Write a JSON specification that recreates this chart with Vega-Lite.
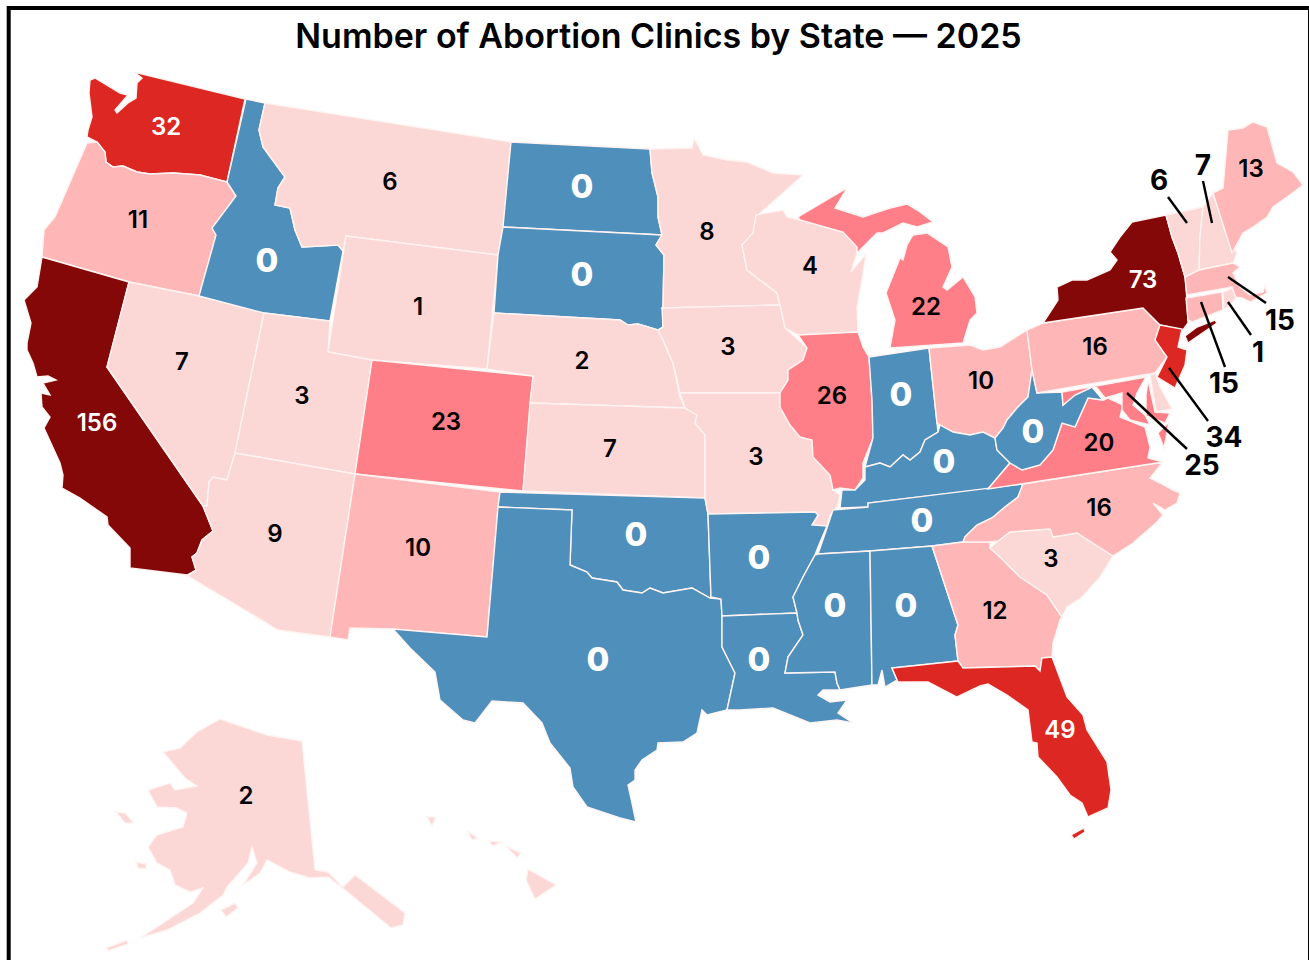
{
"$schema":"https://vega.github.io/schema/vega-lite/v6.json",
"width":1309,"height":960,"autosize":{"type":"none"},"padding":0,"background":"white",
"config":{"view":{"stroke":null}},
"title":{"text":"Number of Abortion Clinics by State — 2025","font":"Inter","fontSize":34,"fontWeight":600,"color":"#000000","anchor":"middle","offset":-55,"dx":4},
"projection":{"type":"identity","scale":1,"translate":[0,0]},
"datasets":{
"states":[
{"type":"Feature","properties":{"state":"Washington","clinics":32},"geometry":{"type":"Polygon","coordinates":[[[90,80],[95,78],[120,93],[128,95],[115,110],[117,113],[128,103],[136,98],[137,83],[142,78],[134,72],[245,99],[227,182],[200,175],[173,173],[150,174],[137,172],[123,166],[113,167],[106,162],[105,152],[97,142],[87,137],[88,130],[92,117],[89,93],[90,80]]]}},
{"type":"Feature","properties":{"state":"Oregon","clinics":11},"geometry":{"type":"Polygon","coordinates":[[[87,143],[97,142],[105,152],[106,162],[113,167],[123,166],[137,172],[150,174],[173,173],[200,175],[227,182],[236,196],[222,215],[212,228],[216,235],[199,296],[129,282],[42,257],[44,230],[55,217],[87,143]]]}},
{"type":"Feature","properties":{"state":"California","clinics":156},"geometry":{"type":"Polygon","coordinates":[[[42,257],[129,282],[107,367],[203,506],[213,531],[202,540],[197,553],[192,557],[196,570],[187,575],[130,568],[130,548],[108,525],[107,517],[80,498],[62,488],[63,475],[60,463],[44,428],[50,417],[42,407],[41,393],[50,395],[43,383],[56,380],[48,376],[37,377],[33,363],[27,350],[27,343],[31,323],[24,300],[37,287],[42,257]]]}},
{"type":"Feature","properties":{"state":"Nevada","clinics":7},"geometry":{"type":"Polygon","coordinates":[[[129,282],[199,296],[264,313],[235,453],[227,480],[213,477],[209,482],[207,506],[203,506],[107,367],[129,282]]]}},
{"type":"Feature","properties":{"state":"Idaho","clinics":0},"geometry":{"type":"Polygon","coordinates":[[[246,99],[265,103],[259,130],[263,147],[285,177],[278,188],[275,205],[290,208],[295,230],[302,247],[338,245],[343,251],[330,321],[264,313],[199,296],[216,235],[212,228],[236,196],[227,182],[246,99]]]}},
{"type":"Feature","properties":{"state":"Montana","clinics":6},"geometry":{"type":"Polygon","coordinates":[[[265,103],[511,142],[503,227],[498,255],[346,236],[343,251],[338,245],[302,247],[295,230],[290,208],[275,205],[278,188],[285,177],[263,147],[259,130],[265,103]]]}},
{"type":"Feature","properties":{"state":"Wyoming","clinics":1},"geometry":{"type":"Polygon","coordinates":[[[346,236],[498,255],[487,369],[372,360],[328,352],[346,236]]]}},
{"type":"Feature","properties":{"state":"Utah","clinics":3},"geometry":{"type":"Polygon","coordinates":[[[264,313],[330,321],[328,352],[372,360],[355,474],[235,453],[264,313]]]}},
{"type":"Feature","properties":{"state":"Colorado","clinics":23},"geometry":{"type":"Polygon","coordinates":[[[372,360],[533,376],[523,491],[355,474],[372,360]]]}},
{"type":"Feature","properties":{"state":"Arizona","clinics":9},"geometry":{"type":"Polygon","coordinates":[[[235,453],[355,474],[330,637],[278,630],[188,576],[196,570],[192,557],[197,553],[202,540],[213,531],[203,506],[207,506],[209,482],[213,477],[227,480],[235,453]]]}},
{"type":"Feature","properties":{"state":"New Mexico","clinics":10},"geometry":{"type":"Polygon","coordinates":[[[355,474],[500,492],[498,507],[487,637],[393,629],[350,628],[348,640],[330,637],[355,474]]]}},
{"type":"Feature","properties":{"state":"North Dakota","clinics":0},"geometry":{"type":"Polygon","coordinates":[[[511,142],[650,149],[652,173],[658,197],[658,217],[662,235],[503,227],[511,142]]]}},
{"type":"Feature","properties":{"state":"South Dakota","clinics":0},"geometry":{"type":"Polygon","coordinates":[[[503,227],[662,235],[656,245],[664,255],[663,307],[663,327],[658,330],[638,324],[628,325],[620,320],[494,313],[498,255],[503,227]]]}},
{"type":"Feature","properties":{"state":"Nebraska","clinics":2},"geometry":{"type":"Polygon","coordinates":[[[494,313],[620,320],[628,325],[638,324],[658,330],[663,340],[673,363],[680,397],[685,408],[530,403],[533,376],[487,369],[494,313]]]}},
{"type":"Feature","properties":{"state":"Kansas","clinics":7},"geometry":{"type":"Polygon","coordinates":[[[530,403],[685,408],[697,415],[695,423],[705,435],[705,498],[523,491],[530,403]]]}},
{"type":"Feature","properties":{"state":"Oklahoma","clinics":0},"geometry":{"type":"Polygon","coordinates":[[[500,492],[705,498],[708,514],[711,597],[710,598],[692,588],[663,593],[650,588],[642,593],[623,590],[617,582],[592,578],[587,572],[570,565],[572,510],[498,507],[500,492]]]}},
{"type":"Feature","properties":{"state":"Texas","clinics":0},"geometry":{"type":"Polygon","coordinates":[[[498,507],[572,510],[570,565],[587,572],[592,578],[617,582],[623,590],[642,593],[650,588],[663,593],[692,588],[710,598],[721,599],[722,616],[722,647],[735,673],[727,710],[707,715],[702,710],[697,733],[683,742],[658,743],[657,750],[642,760],[635,770],[635,780],[628,785],[632,803],[636,822],[620,818],[587,807],[573,787],[570,768],[550,743],[542,723],[523,703],[492,701],[475,723],[463,720],[440,700],[435,672],[410,648],[393,629],[487,637],[498,507]]]}},
{"type":"Feature","properties":{"state":"Minnesota","clinics":8},"geometry":{"type":"Polygon","coordinates":[[[650,149],[692,148],[694,138],[703,155],[727,160],[747,162],[773,173],[803,175],[783,193],[758,215],[756,217],[753,233],[742,245],[747,270],[777,293],[780,305],[662,308],[663,307],[664,255],[656,245],[662,235],[658,217],[658,197],[652,173],[650,149]]]}},
{"type":"Feature","properties":{"state":"Iowa","clinics":3},"geometry":{"type":"Polygon","coordinates":[[[662,308],[780,305],[785,328],[807,348],[803,360],[788,370],[788,380],[780,393],[680,393],[673,363],[663,340],[658,330],[663,327],[662,308]]]}},
{"type":"Feature","properties":{"state":"Missouri","clinics":3},"geometry":{"type":"Polygon","coordinates":[[[680,393],[780,393],[780,407],[790,425],[800,437],[812,440],[813,457],[830,475],[833,490],[840,495],[837,507],[830,515],[827,526],[812,525],[818,515],[815,512],[708,514],[705,498],[705,435],[695,423],[697,415],[685,408],[680,393]]]}},
{"type":"Feature","properties":{"state":"Arkansas","clinics":0},"geometry":{"type":"Polygon","coordinates":[[[708,514],[815,512],[818,515],[812,525],[827,526],[818,547],[815,555],[803,577],[793,597],[797,613],[722,616],[721,599],[711,597],[708,514]]]}},
{"type":"Feature","properties":{"state":"Louisiana","clinics":0},"geometry":{"type":"Polygon","coordinates":[[[722,616],[797,613],[798,620],[803,635],[788,657],[785,673],[835,672],[837,683],[840,690],[823,690],[818,695],[830,702],[847,700],[838,713],[853,723],[837,720],[810,723],[773,708],[740,710],[727,710],[735,673],[722,647],[722,616]]]}},
{"type":"Feature","properties":{"state":"Wisconsin","clinics":4},"geometry":{"type":"Polygon","coordinates":[[[756,215],[783,210],[787,217],[800,220],[843,232],[857,247],[857,253],[851,272],[866,254],[862,280],[857,307],[858,332],[798,335],[785,328],[780,305],[777,293],[747,270],[742,245],[753,233],[756,215]]]}},
{"type":"Feature","properties":{"state":"Illinois","clinics":26},"geometry":{"type":"Polygon","coordinates":[[[798,335],[858,332],[863,347],[869,357],[872,400],[873,438],[863,463],[863,478],[855,490],[840,488],[833,490],[830,475],[813,457],[812,440],[800,437],[790,425],[780,407],[780,393],[788,380],[788,370],[803,360],[807,348],[798,335]]]}},
{"type":"Feature","properties":{"state":"Michigan","clinics":22},"geometry":{"type":"MultiPolygon","coordinates":[[[[798,217],[847,188],[835,208],[863,217],[890,208],[907,204],[920,212],[933,222],[917,227],[903,223],[883,233],[877,233],[867,243],[857,253],[857,247],[843,232],[800,220],[798,217]]],[[[913,235],[927,233],[948,247],[952,267],[943,287],[947,290],[963,277],[975,297],[977,313],[970,320],[963,343],[890,348],[895,320],[886,293],[900,258],[903,260],[907,245],[913,235]]]]}},
{"type":"Feature","properties":{"state":"Indiana","clinics":0},"geometry":{"type":"Polygon","coordinates":[[[869,357],[929,348],[937,423],[938,432],[925,440],[920,452],[910,460],[903,455],[890,467],[880,463],[865,467],[873,438],[872,400],[869,357]]]}},
{"type":"Feature","properties":{"state":"Ohio","clinics":10},"geometry":{"type":"Polygon","coordinates":[[[929,348],[970,345],[983,350],[1000,347],[1027,330],[1032,370],[1028,397],[1017,408],[1007,420],[1003,428],[995,438],[983,432],[970,435],[953,432],[940,425],[937,423],[929,348]]]}},
{"type":"Feature","properties":{"state":"Kentucky","clinics":0},"geometry":{"type":"Polygon","coordinates":[[[842,490],[855,490],[865,480],[865,467],[880,463],[890,467],[903,455],[910,460],[920,452],[925,440],[938,432],[940,425],[953,432],[970,435],[983,432],[995,438],[997,450],[1010,463],[988,489],[868,503],[868,507],[840,508],[842,490]]]}},
{"type":"Feature","properties":{"state":"Tennessee","clinics":0},"geometry":{"type":"Polygon","coordinates":[[[833,510],[868,507],[868,503],[1023,484],[1018,497],[1005,507],[992,518],[977,525],[965,537],[963,542],[932,546],[870,551],[818,554],[827,528],[833,510]]]}},
{"type":"Feature","properties":{"state":"Mississippi","clinics":0},"geometry":{"type":"Polygon","coordinates":[[[818,554],[870,551],[872,685],[840,690],[837,683],[835,672],[785,673],[788,657],[803,635],[798,620],[797,613],[793,597],[803,577],[815,555],[818,554]]]}},
{"type":"Feature","properties":{"state":"Alabama","clinics":0},"geometry":{"type":"Polygon","coordinates":[[[870,551],[932,546],[958,625],[955,635],[958,661],[892,668],[897,680],[885,687],[882,670],[878,685],[872,685],[870,551]]]}},
{"type":"Feature","properties":{"state":"Georgia","clinics":12},"geometry":{"type":"Polygon","coordinates":[[[932,546],[963,542],[990,542],[990,548],[1000,557],[1020,577],[1047,595],[1062,617],[1060,620],[1053,643],[1052,657],[1042,658],[1040,671],[1035,666],[963,668],[958,661],[955,635],[958,625],[932,546]]]}},
{"type":"Feature","properties":{"state":"Florida","clinics":49},"geometry":{"type":"MultiPolygon","coordinates":[[[[892,668],[958,661],[963,668],[1035,666],[1040,671],[1042,658],[1052,657],[1067,697],[1083,715],[1087,730],[1107,762],[1111,790],[1108,808],[1088,817],[1082,803],[1070,795],[1057,777],[1038,757],[1037,743],[1032,742],[1028,710],[1007,695],[988,684],[980,686],[957,697],[928,682],[908,682],[898,682],[892,668]]],[[[1071,835],[1084,828],[1085,832],[1074,839],[1071,835]]]]}},
{"type":"Feature","properties":{"state":"South Carolina","clinics":3},"geometry":{"type":"Polygon","coordinates":[[[990,548],[998,541],[1010,532],[1050,529],[1053,537],[1077,533],[1113,556],[1100,577],[1082,597],[1067,607],[1062,617],[1047,595],[1020,577],[1000,557],[990,548]]]}},
{"type":"Feature","properties":{"state":"North Carolina","clinics":16},"geometry":{"type":"Polygon","coordinates":[[[1023,484],[1163,462],[1150,478],[1160,483],[1173,490],[1180,493],[1177,503],[1165,510],[1153,503],[1163,515],[1157,522],[1133,543],[1113,556],[1077,533],[1053,537],[1050,529],[1010,532],[998,541],[990,542],[963,542],[965,537],[977,525],[992,518],[1005,507],[1018,497],[1023,484]]]}},
{"type":"Feature","properties":{"state":"Virginia","clinics":20},"geometry":{"type":"MultiPolygon","coordinates":[[[[988,489],[1010,463],[1022,470],[1040,465],[1053,450],[1062,423],[1075,427],[1088,398],[1103,400],[1108,398],[1123,405],[1120,417],[1145,427],[1150,447],[1148,458],[1163,462],[988,489]]],[[[1158,433],[1169,422],[1164,448],[1158,433]]]]}},
{"type":"Feature","properties":{"state":"West Virginia","clinics":0},"geometry":{"type":"Polygon","coordinates":[[[1032,370],[1037,393],[1062,392],[1063,405],[1075,395],[1092,387],[1103,400],[1088,398],[1075,427],[1062,423],[1053,450],[1040,465],[1022,470],[1010,463],[997,450],[995,438],[1003,428],[1007,420],[1017,408],[1028,397],[1032,370]]]}},
{"type":"Feature","properties":{"state":"Maryland","clinics":25},"geometry":{"type":"MultiPolygon","coordinates":[[[[1062,392],[1146,377],[1137,393],[1133,405],[1145,415],[1150,425],[1130,420],[1122,410],[1122,393],[1105,398],[1097,388],[1092,387],[1075,395],[1063,405],[1062,392]]],[[[1148,380],[1155,412],[1170,413],[1165,423],[1146,416],[1146,395],[1148,380]]]]}},
{"type":"Feature","properties":{"state":"Delaware","clinics":3},"geometry":{"type":"Polygon","coordinates":[[[1150,375],[1155,373],[1160,387],[1172,409],[1156,412],[1150,375]]]}},
{"type":"Feature","properties":{"state":"Pennsylvania","clinics":16},"geometry":{"type":"Polygon","coordinates":[[[1027,330],[1043,323],[1143,308],[1160,325],[1155,340],[1167,357],[1155,373],[1037,393],[1032,370],[1027,330]]]}},
{"type":"Feature","properties":{"state":"New York","clinics":73},"geometry":{"type":"MultiPolygon","coordinates":[[[[1043,323],[1058,300],[1057,287],[1072,280],[1087,280],[1110,270],[1117,260],[1110,252],[1120,237],[1132,222],[1166,215],[1172,237],[1178,253],[1185,277],[1187,300],[1188,323],[1183,330],[1160,325],[1143,308],[1043,323]]],[[[1185,336],[1197,327],[1215,320],[1217,323],[1201,334],[1188,343],[1185,336]]]]}},
{"type":"Feature","properties":{"state":"New Jersey","clinics":34},"geometry":{"type":"Polygon","coordinates":[[[1160,325],[1182,329],[1178,347],[1187,350],[1185,365],[1175,388],[1157,377],[1167,357],[1155,340],[1160,325]]]}},
{"type":"Feature","properties":{"state":"Vermont","clinics":6},"geometry":{"type":"Polygon","coordinates":[[[1166,215],[1203,207],[1200,237],[1199,270],[1185,277],[1178,253],[1172,237],[1166,215]]]}},
{"type":"Feature","properties":{"state":"New Hampshire","clinics":7},"geometry":{"type":"Polygon","coordinates":[[[1203,207],[1213,193],[1227,237],[1237,253],[1233,263],[1199,270],[1200,237],[1203,207]]]}},
{"type":"Feature","properties":{"state":"Maine","clinics":13},"geometry":{"type":"Polygon","coordinates":[[[1213,193],[1223,188],[1228,130],[1243,128],[1253,122],[1267,127],[1277,163],[1293,172],[1303,185],[1287,197],[1273,207],[1267,217],[1253,227],[1243,233],[1232,253],[1227,237],[1213,193]]]}},
{"type":"Feature","properties":{"state":"Massachusetts","clinics":15},"geometry":{"type":"Polygon","coordinates":[[[1185,277],[1199,270],[1233,263],[1240,267],[1233,273],[1240,287],[1250,295],[1263,292],[1265,285],[1267,293],[1250,302],[1242,298],[1235,297],[1232,287],[1187,295],[1185,277]]]}},
{"type":"Feature","properties":{"state":"Connecticut","clinics":15},"geometry":{"type":"Polygon","coordinates":[[[1186,298],[1222,292],[1223,310],[1192,322],[1188,320],[1186,298]]]}},
{"type":"Feature","properties":{"state":"Rhode Island","clinics":1},"geometry":{"type":"Polygon","coordinates":[[[1223,292],[1232,288],[1236,298],[1227,308],[1224,309],[1223,292]]]}},
{"type":"Feature","properties":{"state":"Alaska","clinics":2},"geometry":{"type":"MultiPolygon","coordinates":[[[[220,719],[267,735],[302,741],[315,870],[328,872],[343,887],[355,875],[405,913],[403,925],[391,928],[345,890],[328,877],[310,878],[290,872],[267,860],[260,873],[243,885],[257,863],[252,847],[248,863],[227,887],[223,895],[200,913],[167,930],[140,938],[160,925],[193,903],[203,888],[190,892],[175,885],[170,870],[157,863],[148,847],[157,835],[183,827],[187,813],[177,808],[157,807],[148,790],[170,783],[175,790],[197,786],[185,778],[163,752],[180,748],[197,732],[220,719]]],[[[116,812],[125,813],[134,823],[125,823],[116,812]]],[[[136,862],[146,864],[146,869],[138,868],[136,862]]],[[[221,910],[235,903],[238,908],[226,917],[221,910]]],[[[106,948],[127,940],[128,944],[108,951],[106,948]]]]}},
{"type":"Feature","properties":{"state":"Hawaii","clinics":4},"geometry":{"type":"MultiPolygon","coordinates":[[[[528,869],[556,885],[535,899],[526,880],[528,869]]],[[[506,846],[521,853],[517,858],[506,846]]],[[[467,831],[478,838],[472,840],[467,831]]],[[[489,841],[503,842],[492,846],[489,841]]],[[[427,817],[436,817],[432,826],[427,817]]]]}}
],
"labels":[
{"state":"Washington","clinics":32,"x":166,"y":126},{"state":"Oregon","clinics":11,"x":138,"y":219},{"state":"California","clinics":156,"x":97,"y":422},{"state":"Nevada","clinics":7,"x":182,"y":361},{"state":"Idaho","clinics":0,"x":267,"y":260},{"state":"Montana","clinics":6,"x":390,"y":181},{"state":"Wyoming","clinics":1,"x":418,"y":306},{"state":"Utah","clinics":3,"x":302,"y":395},{"state":"Colorado","clinics":23,"x":446,"y":421},{"state":"Arizona","clinics":9,"x":275,"y":533},{"state":"New Mexico","clinics":10,"x":418,"y":547},{"state":"North Dakota","clinics":0,"x":582,"y":186},{"state":"South Dakota","clinics":0,"x":582,"y":274},{"state":"Nebraska","clinics":2,"x":582,"y":360},{"state":"Kansas","clinics":7,"x":610,"y":448},{"state":"Oklahoma","clinics":0,"x":636,"y":534},{"state":"Texas","clinics":0,"x":598,"y":659},{"state":"Minnesota","clinics":8,"x":707,"y":231},{"state":"Iowa","clinics":3,"x":728,"y":346},{"state":"Missouri","clinics":3,"x":756,"y":456},{"state":"Arkansas","clinics":0,"x":759,"y":557},{"state":"Louisiana","clinics":0,"x":759,"y":659},{"state":"Wisconsin","clinics":4,"x":810,"y":265},{"state":"Illinois","clinics":26,"x":832,"y":395},{"state":"Michigan","clinics":22,"x":926,"y":306},{"state":"Indiana","clinics":0,"x":901,"y":394},{"state":"Kentucky","clinics":0,"x":944,"y":461},{"state":"Tennessee","clinics":0,"x":922,"y":520},{"state":"Mississippi","clinics":0,"x":835,"y":605},{"state":"Alabama","clinics":0,"x":906,"y":605},{"state":"Georgia","clinics":12,"x":995,"y":610},{"state":"Florida","clinics":49,"x":1060,"y":729},{"state":"South Carolina","clinics":3,"x":1051,"y":558},{"state":"North Carolina","clinics":16,"x":1099,"y":507},{"state":"Virginia","clinics":20,"x":1099,"y":442},{"state":"West Virginia","clinics":0,"x":1033,"y":431},{"state":"Ohio","clinics":10,"x":981,"y":380},{"state":"Pennsylvania","clinics":16,"x":1095,"y":346},{"state":"New York","clinics":73,"x":1143,"y":279},{"state":"Maine","clinics":13,"x":1251,"y":168},{"state":"Alaska","clinics":2,"x":246,"y":795}
],
"callouts":[
{"state":"Vermont","clinics":6,"x":1159,"y":180,"x1":1168,"y1":197,"x2":1187,"y2":223},
{"state":"New Hampshire","clinics":7,"x":1203,"y":165,"x1":1203,"y1":181,"x2":1212,"y2":223},
{"state":"Massachusetts","clinics":15,"x":1280,"y":320,"x1":1228,"y1":277,"x2":1266,"y2":303},
{"state":"Rhode Island","clinics":1,"x":1258,"y":352,"x1":1228,"y1":302,"x2":1251,"y2":335},
{"state":"Connecticut","clinics":15,"x":1224,"y":383,"x1":1201,"y1":302,"x2":1225,"y2":367},
{"state":"New Jersey","clinics":34,"x":1224,"y":437,"x1":1169,"y1":368,"x2":1208,"y2":421},
{"state":"Maryland","clinics":25,"x":1202,"y":465,"x1":1127,"y1":393,"x2":1187,"y2":449}
],
"frame":[{"type":"Feature","properties":{"name":"frame"},"geometry":{"type":"LineString","coordinates":[[8.7,960],[8.7,8],[1310,8],[1310,960]]}}]
},
"layer":[
{"data":{"name":"states"},"mark":{"type":"geoshape","stroke":"#fff4f2","strokeWidth":1.4},
 "encoding":{"color":{"field":"properties.clinics","type":"quantitative","legend":null,"scale":{"type":"threshold","domain":[1,10,20,30,60],"range":["#4f8fbb","#fbd7d6","#ffb6b6","#fe7f87","#dc2723","#850808"]}},"tooltip":{"field":"properties.state"}}},
{"data":{"name":"frame"},"mark":{"type":"geoshape","filled":false,"stroke":"#000000","strokeWidth":4},"encoding":{}},
{"data":{"name":"callouts"},"mark":{"type":"rule","stroke":"#000000","strokeWidth":2.4},
 "encoding":{"longitude":{"field":"x1","type":"quantitative"},"latitude":{"field":"y1","type":"quantitative"},"longitude2":{"field":"x2"},"latitude2":{"field":"y2"}}},
{"data":{"name":"labels"},"transform":[{"filter":"datum.clinics > 0 && datum.clinics < 30"}],"mark":{"type":"text","font":"Inter","fontSize":24,"fontWeight":600,"color":"#000000","baseline":"middle","align":"center","dy":2},
 "encoding":{"longitude":{"field":"x","type":"quantitative"},"latitude":{"field":"y","type":"quantitative"},"text":{"field":"clinics"}}},
{"data":{"name":"labels"},"transform":[{"filter":"datum.clinics >= 30"}],"mark":{"type":"text","font":"Inter","fontSize":24,"fontWeight":600,"color":"#ffffff","baseline":"middle","align":"center","dy":2},
 "encoding":{"longitude":{"field":"x","type":"quantitative"},"latitude":{"field":"y","type":"quantitative"},"text":{"field":"clinics"}}},
{"data":{"name":"labels"},"transform":[{"filter":"datum.clinics == 0"}],"mark":{"type":"text","font":"Inter","fontSize":33,"fontWeight":800,"color":"#ffffff","baseline":"middle","align":"center","dy":2},
 "encoding":{"longitude":{"field":"x","type":"quantitative"},"latitude":{"field":"y","type":"quantitative"},"text":{"field":"clinics"}}},
{"data":{"name":"callouts"},"mark":{"type":"text","font":"Inter","fontSize":28,"fontWeight":700,"color":"#000000","baseline":"middle","align":"center","dy":2},
 "encoding":{"longitude":{"field":"x","type":"quantitative"},"latitude":{"field":"y","type":"quantitative"},"text":{"field":"clinics"}}}
]
}
